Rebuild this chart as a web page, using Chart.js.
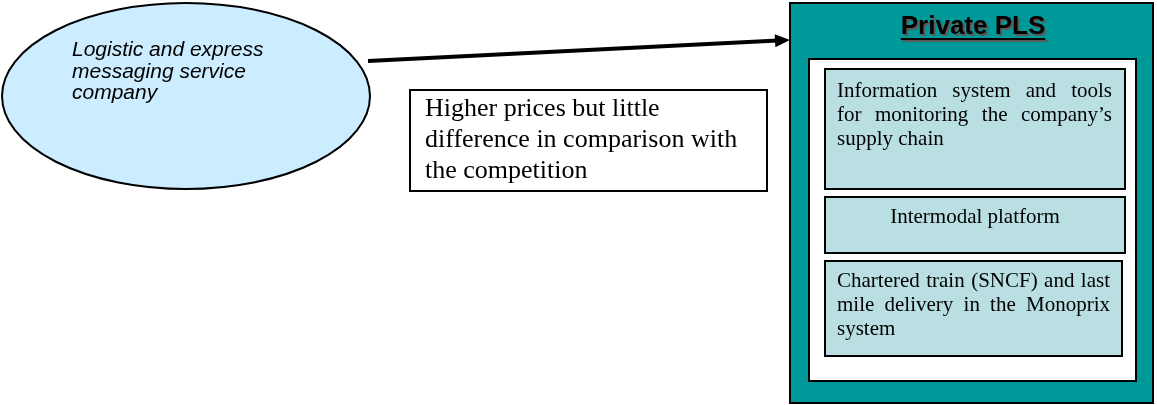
<!DOCTYPE html>
<html>
<head>
<meta charset="utf-8">
<script src="https://cdn.jsdelivr.net/npm/chart.js@4/dist/chart.umd.min.js"></script>
<style>
  html, body { margin: 0; padding: 0; background: #fff; }
  #diagram { display: block; }
</style>
</head>
<body>
<canvas id="diagram" width="1157" height="405"></canvas>
<script>
// text content of the diagram
var sourceLines = ["Logistic and express", "messaging service", "company"];
var noteLines = ["Higher prices but little", "difference in comparison with", "the competition"];
var panelTitle = "Private PLS";
var item1Lines = ["Information system and tools", "for monitoring the company\u2019s", "supply chain"];
var item2Lines = ["Intermodal platform"];
var item3Lines = ["Chartered train (SNCF) and last", "mile delivery in the Monoprix", "system"];

// layout, in the page's own units (x: 0..1157, y: 0..405 from the top)
var layout = {
    ellipse: { cx: 186, cy: 96, rx: 184, ry: 93 },
    sourceText: { x: 72, y: [56, 77.5, 99] },
    arrow: { from: [368, 61], to: [790, 40] },
    note: { x0: 410, y0: 90, x1: 767, y1: 191, tx: 425, ty: [116, 147, 178] },
    panel: { x0: 790, y0: 3, x1: 1153, y1: 403 },
    title: { x: 973, y: 34 },
    inner: { x0: 809, y0: 59, x1: 1136, y1: 381 },
    items: [
        { x0: 825, y0: 69, x1: 1125, y1: 189, tx0: 837, tx1: 1112, ty: [97, 121, 145], align: "justify" },
        { x0: 825, y0: 197, x1: 1125, y1: 253, tx0: 837, tx1: 1112, ty: [223], align: "center" },
        { x0: 825, y0: 261, x1: 1122, y1: 356, tx0: 837, tx1: 1110, ty: [287, 311, 335], align: "justify" }
    ]
};
var itemLines = [item1Lines, item2Lines, item3Lines];

function justifyLine(ctx, text, x0, x1, y) {
    var words = text.split(" ");
    var total = 0;
    words.forEach(function (w) { total += ctx.measureText(w).width; });
    var gap = words.length > 1 ? (x1 - x0 - total) / (words.length - 1) : 0;
    var x = x0;
    words.forEach(function (w) {
        ctx.fillText(w, x, y);
        x += ctx.measureText(w).width + gap;
    });
}

var diagramPlugin = {
    id: "diagram",
    afterDatasetsDraw: function (chart) {
        var ctx = chart.ctx;
        var sx = chart.scales.x, sy = chart.scales.y;
        function px(v) { return sx.getPixelForValue(v); }
        function py(v) { return sy.getPixelForValue(v); }
        function rect(r, fill, lw) {
            ctx.fillStyle = fill;
            ctx.fillRect(px(r.x0), py(r.y0), px(r.x1) - px(r.x0), py(r.y1) - py(r.y0));
            ctx.lineWidth = lw;
            ctx.strokeStyle = "#000";
            ctx.strokeRect(px(r.x0), py(r.y0), px(r.x1) - px(r.x0), py(r.y1) - py(r.y0));
        }
        ctx.save();
        ctx.textBaseline = "alphabetic";

        // source ellipse
        var e = layout.ellipse;
        ctx.beginPath();
        ctx.ellipse(px(e.cx), py(e.cy), px(e.cx + e.rx) - px(e.cx), py(e.cy + e.ry) - py(e.cy), 0, 0, Math.PI * 2);
        ctx.fillStyle = "#ccecff";
        ctx.fill();
        ctx.lineWidth = 2;
        ctx.strokeStyle = "#000";
        ctx.stroke();
        ctx.fillStyle = "#000";
        ctx.font = "italic 21px 'Liberation Sans', Arial, sans-serif";
        ctx.textAlign = "left";
        sourceLines.forEach(function (t, i) {
            ctx.fillText(t, px(layout.sourceText.x), py(layout.sourceText.y[i]));
        });

        // arrow head
        var a = layout.arrow;
        var ang = Math.atan2(py(a.to[1]) - py(a.from[1]), px(a.to[0]) - px(a.from[0]));
        ctx.save();
        ctx.translate(px(a.to[0]), py(a.to[1]));
        ctx.rotate(ang);
        ctx.beginPath();
        ctx.moveTo(0, 0);
        ctx.lineTo(-15, -6.5);
        ctx.lineTo(-15, 6.5);
        ctx.closePath();
        ctx.fillStyle = "#000";
        ctx.fill();
        ctx.restore();

        // note box
        var n = layout.note;
        rect(n, "#fff", 2);
        ctx.fillStyle = "#000";
        ctx.font = "26px 'Liberation Serif', 'Times New Roman', serif";
        noteLines.forEach(function (t, i) {
            ctx.fillText(t, px(n.tx), py(n.ty[i]));
        });

        // panel
        rect(layout.panel, "#009999", 2);
        rect(layout.inner, "#fff", 2);

        // title: black, underlined, with a grey drop shadow
        ctx.font = "bold 26px 'Liberation Sans', Arial, sans-serif";
        ctx.textAlign = "center";
        var tw = ctx.measureText(panelTitle).width;
        var tx = px(layout.title.x), ty = py(layout.title.y);
        [["#5a5a5a", 2], ["#000", 0]].forEach(function (s) {
            ctx.fillStyle = s[0];
            ctx.fillText(panelTitle, tx + s[1], ty + s[1]);
            ctx.fillRect(tx - tw / 2 + s[1], ty + 4 + s[1], tw, 2);
        });

        // items
        ctx.font = "21px 'Liberation Serif', 'Times New Roman', serif";
        layout.items.forEach(function (it, k) {
            rect(it, "#b9dfe2", 2);
            ctx.fillStyle = "#000";
            var lines = itemLines[k];
            lines.forEach(function (t, i) {
                var y = py(it.ty[i]);
                if (it.align === "center") {
                    ctx.textAlign = "center";
                    ctx.fillText(t, (px(it.x0) + px(it.x1)) / 2, y);
                } else if (i < lines.length - 1) {
                    ctx.textAlign = "left";
                    justifyLine(ctx, t, px(it.tx0), px(it.tx1), y);
                } else {
                    ctx.textAlign = "left";
                    ctx.fillText(t, px(it.tx0), y);
                }
            });
        });
        ctx.restore();
    }
};

new Chart(document.getElementById("diagram"), {
    type: "scatter",
    data: {
        datasets: [{
            // the connector line from the company to the panel
            data: [
                { x: layout.arrow.from[0], y: layout.arrow.from[1] },
                { x: layout.arrow.to[0] - 12, y: layout.arrow.to[1] + 0.6 }
            ],
            showLine: true,
            borderColor: "#000",
            borderWidth: 4,
            pointRadius: 0,
            borderCapStyle: "butt"
        }]
    },
    options: {
        responsive: false,
        animation: false,
        events: [],
        layout: { padding: 0 },
        plugins: { legend: { display: false }, tooltip: { enabled: false } },
        scales: {
            x: { type: "linear", min: 0, max: 1157, display: false },
            y: { type: "linear", min: 0, max: 405, reverse: true, display: false }
        }
    },
    plugins: [diagramPlugin]
});
</script>
</body>
</html>
